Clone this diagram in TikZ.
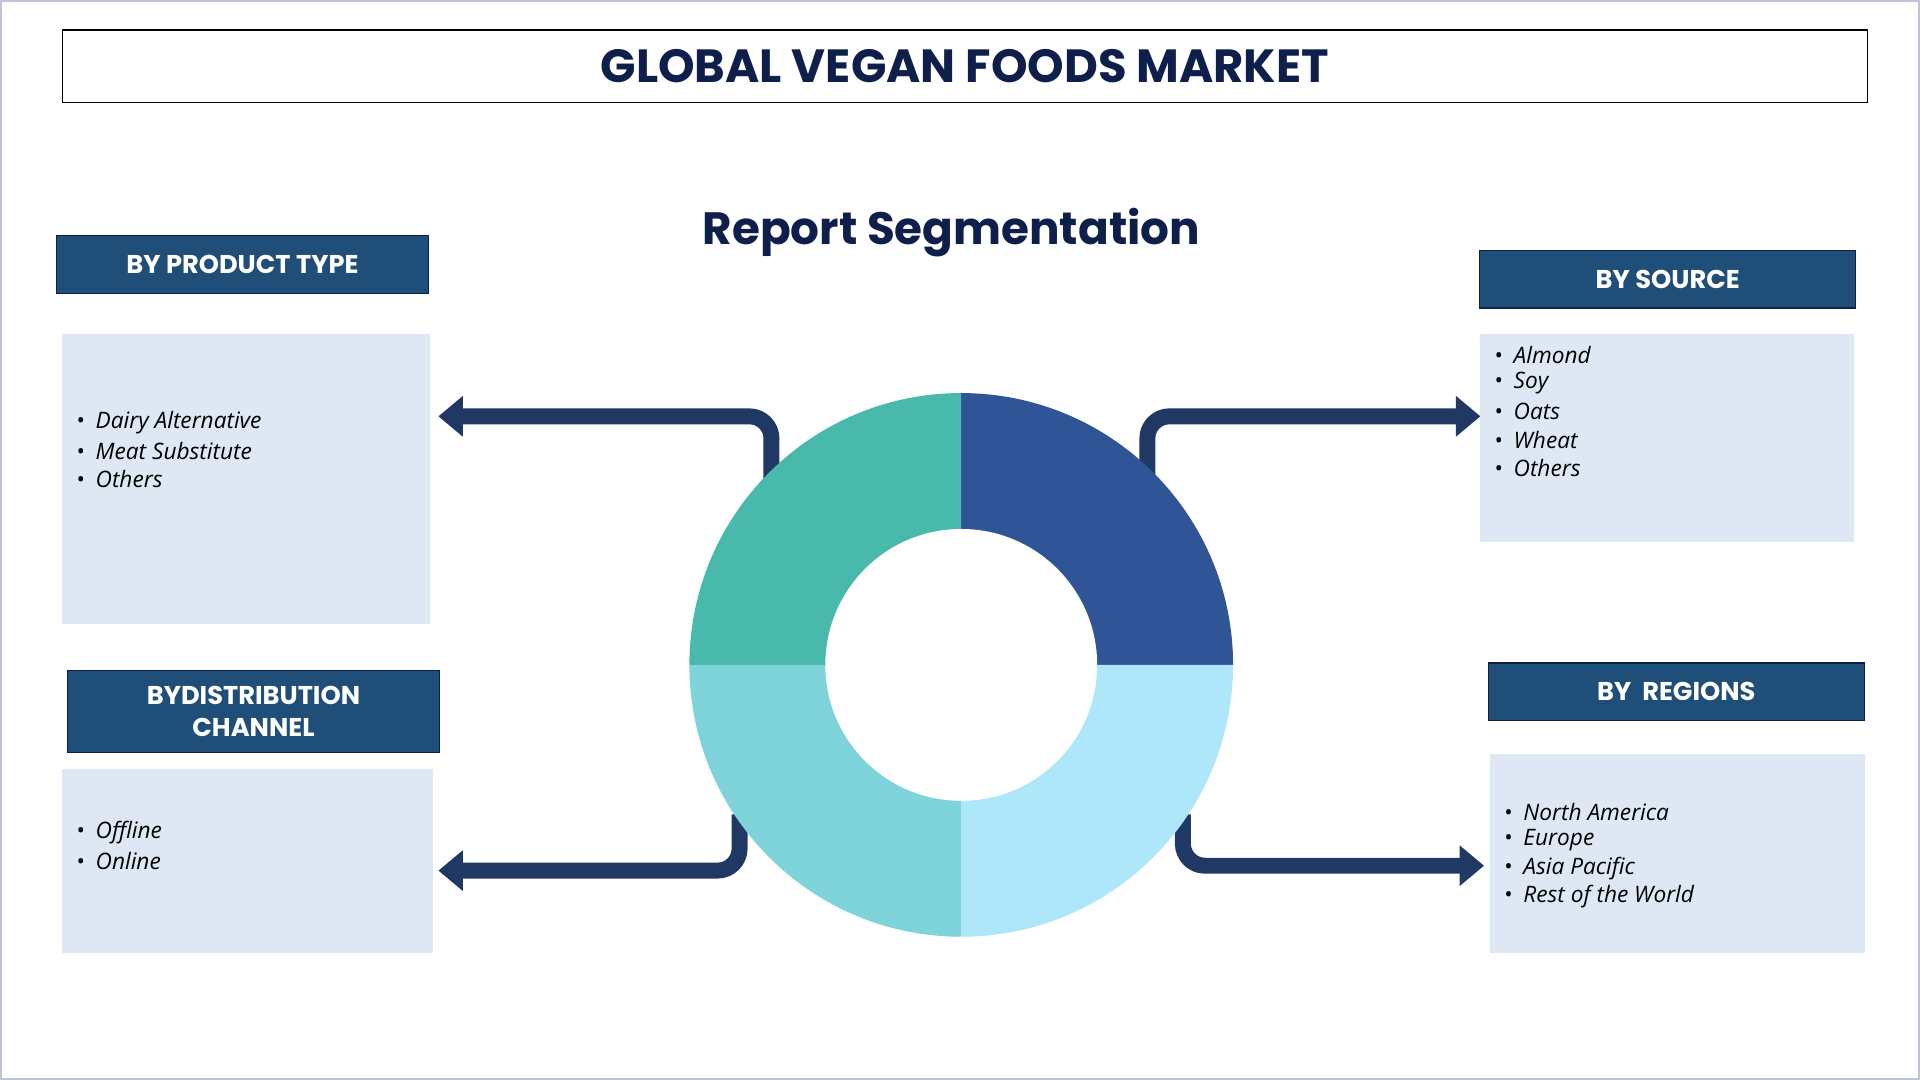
\documentclass[tikz,border=0pt]{standalone}
\usepackage{fontspec}
\setmainfont{Open Sans}
\newfontfamily\headfont{Poppins}
\usetikzlibrary{arrows.meta}
\definecolor{navy}{HTML}{0D1F4A}
\definecolor{hdr}{HTML}{1F4E79}
\definecolor{cbox}{HTML}{DDE8F4}
\definecolor{arr}{HTML}{1F3864}
\definecolor{qa}{HTML}{2F5597}
\definecolor{qb}{HTML}{48B9AB}
\definecolor{qc}{HTML}{7FD3DA}
\definecolor{qd}{HTML}{AEE6FA}
\begin{document}
\begin{tikzpicture}[x=1pt,y=-1pt,
  hdrbox/.style={fill=hdr,draw=navy,line width=1pt,text=white,font=\headfont\bfseries\fontsize{21}{26}\selectfont,align=center},
  cntbox/.style={fill=cbox},
  item/.style={anchor=west,font=\itshape\fontsize{18.5}{23}\selectfont,text=black,inner sep=0pt},
  conn/.style={draw=arr,line width=13pt,rounded corners=18pt,-{Triangle[width=32pt,length=20pt]}}]
\useasboundingbox (0,0) rectangle (1568,882);
\draw[draw=blue!20!gray!40,line width=2pt] (1,1) rectangle (1567,881);
\node[draw=black,line width=1pt,minimum width=1474pt,minimum height=59pt,inner sep=0pt,text=navy,font=\headfont\bfseries\fontsize{38}{44}\selectfont] (title) at (788,54) {GLOBAL VEGAN FOODS MARKET};
\node[text=navy,font=\headfont\bfseries\fontsize{37}{44}\selectfont] (rs) at (777,190) {Report Segmentation};
% connectors
\coordinate (a1) at (630,392); \coordinate (a2) at (358,340);
\coordinate (b1) at (937,392); \coordinate (b2) at (1209,340);
\coordinate (c1) at (604,665); \coordinate (c2) at (358,711);
\coordinate (d1) at (966,665); \coordinate (d2) at (1212,707);
\draw[conn] (a1) |- (a2);
\draw[conn] (b1) |- (b2);
\draw[conn] (c1) |- (c2);
\draw[conn] (d1) |- (d2);
% donut
\coordinate (ctr) at (785,543);
\begin{scope}[shift={(785,543)},yscale=-1]
\fill[qa] (0,0) -- (0,222) arc[start angle=90,end angle=0,radius=222] -- cycle;
\fill[qb] (0,0) -- (-222,0) arc[start angle=180,end angle=90,radius=222] -- cycle;
\fill[qc] (0,0) -- (0,-222) arc[start angle=270,end angle=180,radius=222] -- cycle;
\fill[qd] (0,0) -- (222,0) arc[start angle=0,end angle=-90,radius=222] -- cycle;
\fill[white] (0,0) circle[radius=111];
\end{scope}
% boxes
\fill[cntbox] (51,273) rectangle (351,510);
\fill[cntbox] (1209,273) rectangle (1514,443);
\fill[cntbox] (51,628) rectangle (354,778);
\fill[cntbox] (1217,616) rectangle (1523,778);
\node[hdrbox,minimum width=304pt,minimum height=47pt] (h1) at (198,216) {BY PRODUCT TYPE};
\node[hdrbox,minimum width=307pt,minimum height=47pt] (h2) at (1362,228) {BY SOURCE};
\node[hdrbox,minimum width=304pt,minimum height=67pt,inner sep=0pt] (h3) at (207,581) {BYDISTRIBUTION\\CHANNEL};
\node[hdrbox,minimum width=307pt,minimum height=47pt] (h4) at (1369,565) {BY\ \ REGIONS};
\foreach \t [count=\i] in {Dairy Alternative,Meat Substitute,Others}
  \node[item] (p\i) at (62,{345+23*(\i-1)}) {\textbullet\hspace{9pt}\t};
\foreach \t [count=\i] in {Almond,Soy,Oats,Wheat,Others}
  \node[item] (s\i) at (1220,{290+23*(\i-1)}) {\textbullet\hspace{9pt}\t};
\foreach \t [count=\i] in {Offline,Online}
  \node[item] (o\i) at (62,{680+23*(\i-1)}) {\textbullet\hspace{9pt}\t};
\foreach \t [count=\i] in {North America,Europe,Asia Pacific,Rest of the World}
  \node[item] (r\i) at (1228,{663+23*(\i-1)}) {\textbullet\hspace{9pt}\t};
\end{tikzpicture}
\end{document}
